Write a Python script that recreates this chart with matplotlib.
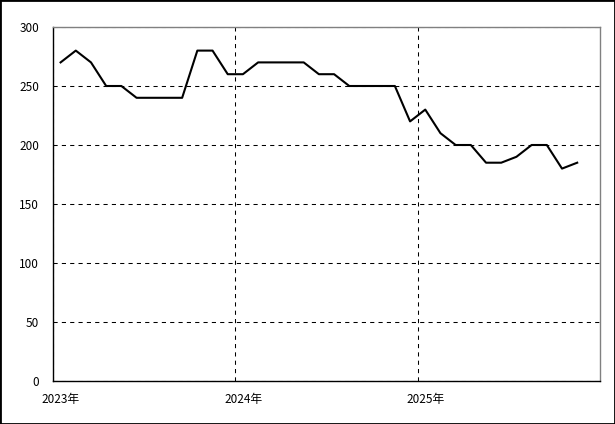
import numpy as np
import matplotlib.pyplot as plt
from matplotlib.patches import Rectangle
from matplotlib.transforms import ScaledTranslation

plt.rcParams['font.family'] = ['Noto Sans CJK JP', 'DejaVu Sans']

# monthly values, Jan 2023 .. Nov 2025
values_2023 = [270, 280, 270, 250, 250, 240, 240, 240, 240, 280, 280, 260]
values_2024 = [260, 270, 270, 270, 270, 260, 260, 250, 250, 250, 250, 220]
values_2025 = [230, 210, 200, 200, 185, 185, 190, 200, 200, 180, 185]
year_labels = ['2023年', '2024年', '2025年']
y_ticks = [0, 50, 100, 150, 200, 250, 300]

values = values_2023 + values_2024 + values_2025
months = np.arange(len(values)) + 0.5

fig = plt.figure(figsize=(6.15, 4.24), dpi=100)
fig.patches.append(Rectangle((0, 0), 1, 1, transform=fig.transFigure,
                             fill=False, edgecolor='black', linewidth=2))
ax = fig.add_axes([53 / 615, 1 - 381 / 424, 547 / 615, 354 / 424])

ax.plot(months, values, color='black', linewidth=1.5, zorder=3)

ax.set_xlim(0, 36)
ax.set_ylim(0, 300)
ax.set_yticks(y_ticks)
ax.set_xticks([0, 12, 24])
ax.set_xticklabels(year_labels)
ax.tick_params(axis='both', length=0, labelsize=8.5, colors='black')
ax.tick_params(axis='y', pad=10)
ax.tick_params(axis='x', pad=9)
offset = ScaledTranslation(8 / 100, 0, fig.dpi_scale_trans)
for lab in ax.get_xticklabels():
    lab.set_transform(lab.get_transform() + offset)

ax.grid(True, color='black', linewidth=0.75, linestyle=(0, (4, 4)))
for side in ['left', 'bottom']:
    ax.spines[side].set_color('black')
    ax.spines[side].set_linewidth(1)
for side in ['top', 'right']:
    ax.spines[side].set_color('#808080')
    ax.spines[side].set_linewidth(1)

fig.savefig('out.png', dpi=100)
